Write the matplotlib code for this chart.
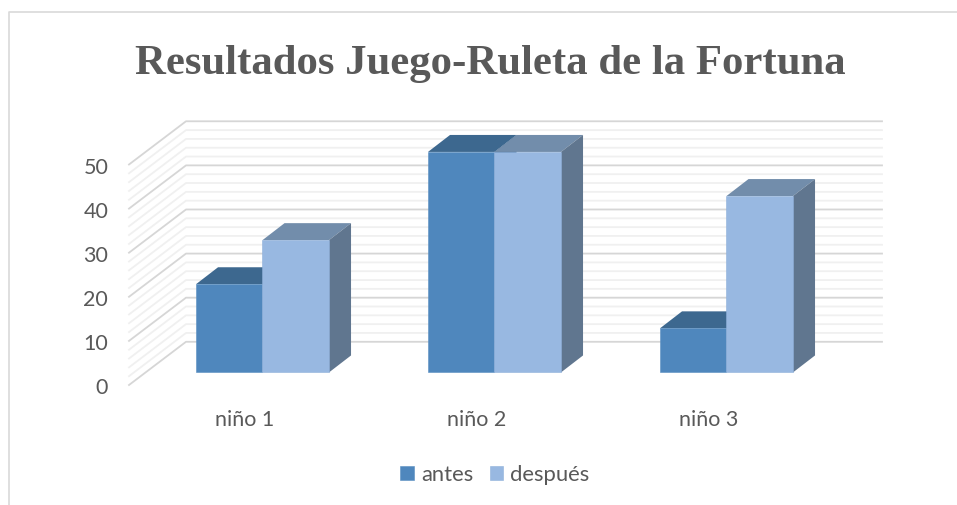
import matplotlib.pyplot as plt
from matplotlib.lines import Line2D
from matplotlib.patches import Polygon

plt.rcParams['font.family'] = ['Lato', 'DejaVu Sans']

categories = ['niño 1', 'niño 2', 'niño 3']
antes = [20, 50, 10]
despues = [30, 50, 40]
major_ticks = [0, 10, 20, 30, 40, 50]
minor_ticks = [2, 4, 6, 8, 12, 14, 16, 18, 22, 24, 26, 28, 32, 34, 36, 38, 42, 44, 46, 48]

W, H = 957, 506
TEXT = '#595959'
BAR_W = 66.5 / 232
# 3d look: floor depth, bar position on the floor and bar depth, all in data units
WALL_DX, WALL_DY = 0.2457, 9.8
SHIFT_DX, SHIFT_DY = 0.0754, 2.85
DEPTH_DX, DEPTH_DY = 0.095, 3.85


def grid_line(ax, y, color, lw):
    ax.plot([-0.5, -0.5 + WALL_DX, 2.5 + WALL_DX], [y, y + WALL_DY, y + WALL_DY],
            color=color, lw=lw, clip_on=False, zorder=1)


def box(ax, x0, value, front, edge, top, side, label):
    x0 = x0 + SHIFT_DX
    x1 = x0 + BAR_W
    y0 = SHIFT_DY
    y1 = value + SHIFT_DY
    ax.add_patch(Polygon([(x0, y1), (x1, y1), (x1 + DEPTH_DX, y1 + DEPTH_DY), (x0 + DEPTH_DX, y1 + DEPTH_DY)],
                         facecolor=top, edgecolor='none', clip_on=False, zorder=3))
    ax.add_patch(Polygon([(x1, y0), (x1 + DEPTH_DX, y0 + DEPTH_DY), (x1 + DEPTH_DX, y1 + DEPTH_DY), (x1, y1)],
                         facecolor=side, edgecolor='none', clip_on=False, zorder=3))
    return ax.bar(x0, value, BAR_W, bottom=y0, align='edge', color=front, label=label,
                  edgecolor=edge, linewidth=0.4, clip_on=False, zorder=3)


fig = plt.figure(figsize=(W / 100, H / 100), dpi=100)
ax = fig.add_axes([129 / W, (H - 386) / H, 696 / W, 220.5 / H])
ax.set_xlim(-0.5, 2.5)
ax.set_ylim(0, 50)

for y in minor_ticks:
    grid_line(ax, y, '#F0F0F0', 1.3)
for y in major_ticks:
    grid_line(ax, y, '#D6D6D6', 1.3)

for i in range(len(categories)):
    h1 = box(ax, i - BAR_W, antes[i], '#4F87BD', '#5A8FC2', '#3D688F', '#3D688F', 'antes')
    h2 = box(ax, i, despues[i], '#98B8E1', '#8FB0DA', '#728DAB', '#60768F', 'después')

ax.set_xticks(range(len(categories)))
ax.set_xticklabels(categories)
ax.set_yticks(major_ticks)
ax.tick_params(axis='x', length=0, pad=17.5, labelsize=15.5, labelcolor=TEXT)
ax.tick_params(axis='y', length=0, pad=15, labelsize=15.5, labelcolor=TEXT)
for t in ax.get_yticklabels():
    t.set_va('center_baseline')
for spine in ax.spines.values():
    spine.set_visible(False)

fig.text(490 / W, 1 - 64 / H, 'Resultados Juego-Ruleta de la Fortuna', ha='center', va='center',
         family='Liberation Serif', fontweight='bold', fontsize=30.8, color=TEXT)

fig.legend([h1[0], h2[0]], ['antes', 'después'], loc='center', bbox_to_anchor=(495 / W, 1 - 475.5 / H),
           ncol=2, frameon=False, fontsize=15.8, labelcolor=TEXT, handlelength=0.62, handleheight=0.62,
           handletextpad=0.32, columnspacing=0.75)

# chart frame, only top and left are in the crop
fig.add_artist(Line2D([9 / W, 9 / W, 1], [0, 1 - 13 / H, 1 - 13 / H], color='#D9D9D9', lw=1.2))

fig.savefig('out.png', dpi=100)
